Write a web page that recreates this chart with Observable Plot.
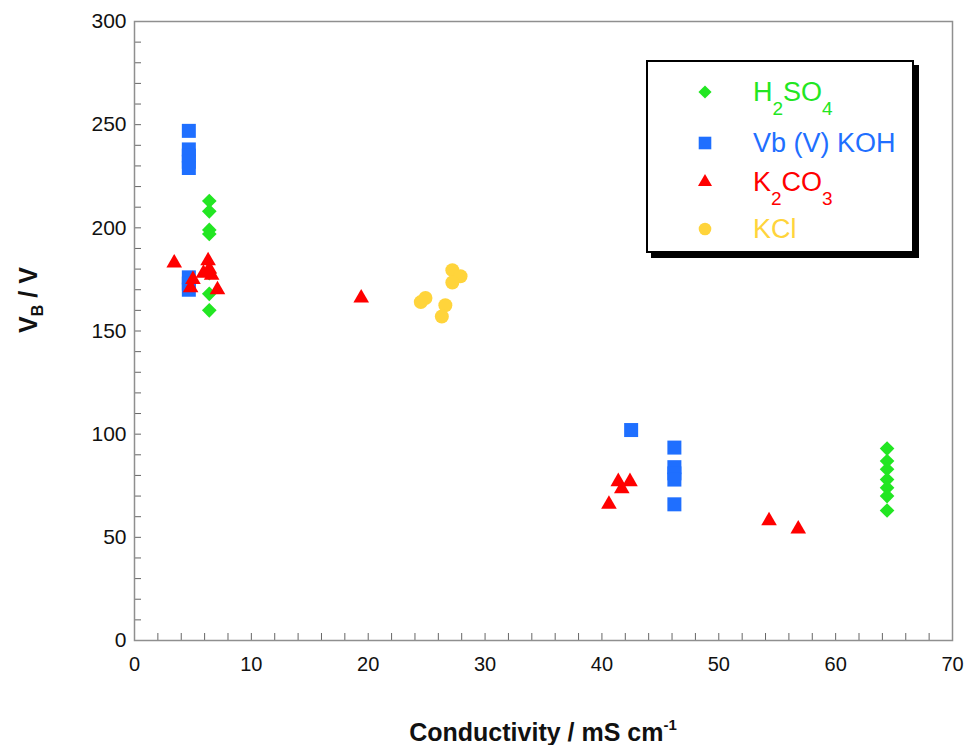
<!DOCTYPE html>
<html>
<head>
<meta charset="utf-8">
<script src="https://cdn.jsdelivr.net/npm/d3@7"></script>
<script src="https://cdn.jsdelivr.net/npm/@observablehq/plot@0.6"></script>
<style>
  html, body { margin: 0; padding: 0; background: #fff; }
  #chart { position: relative; width: 964px; height: 745px; font-family: Arial, "Liberation Sans", sans-serif; }
  #legend { position: absolute; left: 646px; top: 60px; width: 264px; height: 189px; border: 2px solid #000; box-shadow: 5px 5px 0 #000; background: #fff; }
  .lrow { position: absolute; left: 0; height: 40px; width: 264px; }
  .lrow svg { position: absolute; left: 43px; top: 6px; }
  .lrow span { position: absolute; left: 105px; top: 0; font-size: 27px; line-height: 40px; white-space: nowrap; }
  .lrow sub { font-size: 19px; vertical-align: baseline; position: relative; top: 14px; }
</style>
</head>
<body>
<div id="chart"></div>
<script>
// ---- data ----
const seriesNames = ["H2SO4", "Vb (V) KOH", "K2CO3", "KCl"];
const seriesLabelsHtml = ["H<sub>2</sub>SO<sub>4</sub>", "Vb (V) KOH", "K<sub>2</sub>CO<sub>3</sub>", "KCl"];
const seriesColors = ["#22e622", "#1f6fff", "#ff0000", "#ffd43b"];
const seriesSymbols = ["diamond2", "square", "triangle", "circle"];

// [conductivity mS/cm, V_B volts]
const h2so4 = [[6.4,213],[6.4,208],[6.4,199],[6.4,197],[6.4,178],[6.4,168],[6.4,160],
               [64.4,93],[64.4,87],[64.4,83],[64.4,78],[64.4,74],[64.4,70],[64.4,63]];
const koh = [[4.65,247],[4.65,238],[4.65,235],[4.65,232],[4.65,229],[4.65,176],[4.65,173],[4.65,170],
             [42.5,102],[46.2,93.5],[46.2,84],[46.2,81],[46.2,78],[46.2,66]];
const k2co3 = [[3.4,183],[6.3,184],[6.4,180],[5.9,178],[6.6,177],[5.0,175],[4.8,171],[7.1,170],
               [19.4,166],[41.4,77],[42.4,77],[41.7,73.5],[40.6,66],[54.3,58],[56.8,54]];
const kcl = [[27.2,179.5],[27.9,176.5],[27.2,173.5],[24.9,166],[24.5,164],[26.6,162.5],[26.3,157]];

const xTicks = [0,10,20,30,40,50,60,70];
const yTicks = [0,50,100,150,200,250,300];

// ---- build ----
const W = 964, H = 745;
const mL = 134, mR = 12, mT = 21, mB = 105;
const frameW = W - mL - mR, frameH = H - mT - mB;
const symbolR = {diamond2: 6.6, square: 7.9, triangle: 5.8, circle: 7};

const groups = [h2so4, koh, k2co3, kcl];
const drawOrder = [1, 0, 2, 3];
const dotMarks = drawOrder.map(i => Plot.dot(groups[i], {
  x: d => d[0], y: d => d[1],
  symbol: () => seriesSymbols[i],
  fill: seriesColors[i], stroke: "none",
  r: symbolR[seriesSymbols[i]]
}));

const plot = Plot.plot({
  width: W, height: H,
  marginLeft: mL, marginRight: mR, marginTop: mT, marginBottom: mB,
  style: {fontFamily: "Arial, 'Liberation Sans', sans-serif", background: "#fff", color: "#222"},
  x: {domain: [0, 70]},
  y: {domain: [0, 300]},
  symbol: {type: "identity"},
  marks: [
    Plot.tickX(d3.range(0, 71, 2), {x: d => d, stroke: "#666", insetTop: frameH - 7}),
    Plot.tickY(d3.range(0, 301, 10), {y: d => d, stroke: "#666", insetRight: frameW - 7}),
    Plot.frame({stroke: "#8f8f8f", strokeWidth: 1.5}),
    Plot.axisX({ticks: xTicks, tickSize: 0, tickPadding: 16, fontSize: 20, label: null,
                fontFamily: "'Liberation Sans Narrow', Arial, sans-serif", fill: "#111"}),
    Plot.axisY({ticks: yTicks, tickSize: 0, tickPadding: 8, fontSize: 21, label: null, fill: "#111"}),
    ...dotMarks
  ]
});

const chart = document.getElementById("chart");
chart.appendChild(plot);

// axis titles with sub/superscripts
const svg = d3.select(plot);
const yt = svg.append("text")
  .attr("transform", `translate(37, 300) rotate(-90)`)
  .attr("text-anchor", "middle")
  .attr("font-family", "Arial, 'Liberation Sans', sans-serif")
  .attr("font-weight", "bold").attr("font-size", 25).attr("fill", "#111");
yt.append("tspan").text("V");
yt.append("tspan").attr("font-size", 16).attr("dy", 6).text("B");
yt.append("tspan").attr("dy", -6).text(" / V");

const xt = svg.append("text")
  .attr("x", mL + frameW / 2).attr("y", H - 4)
  .attr("text-anchor", "middle")
  .attr("font-family", "Arial, 'Liberation Sans', sans-serif")
  .attr("font-weight", "bold").attr("font-size", 25).attr("fill", "#111");
xt.append("tspan").text("Conductivity / mS cm");
xt.append("tspan").attr("font-size", 15).attr("dy", -11).text("-1");

// legend
const legend = d3.select(chart).append("div").attr("id", "legend");
const rowTops = [10, 61, 100, 147];
const symTypes = {diamond2: d3.symbolDiamond2, square: d3.symbolSquare, triangle: d3.symbolTriangle, circle: d3.symbolCircle};
seriesNames.forEach((name, i) => {
  const row = legend.append("div").attr("class", "lrow").style("top", rowTops[i] + "px");
  const s = row.append("svg").attr("width", 28).attr("height", 28);
  const sr = symbolR[seriesSymbols[i]] * 0.9;
  s.append("path")
    .attr("transform", "translate(14,14)")
    .attr("d", d3.symbol(symTypes[seriesSymbols[i]], Math.PI * sr * sr)())
    .attr("fill", seriesColors[i]);
  row.append("span").style("color", seriesColors[i]).html(seriesLabelsHtml[i]);
});
</script>
</body>
</html>
